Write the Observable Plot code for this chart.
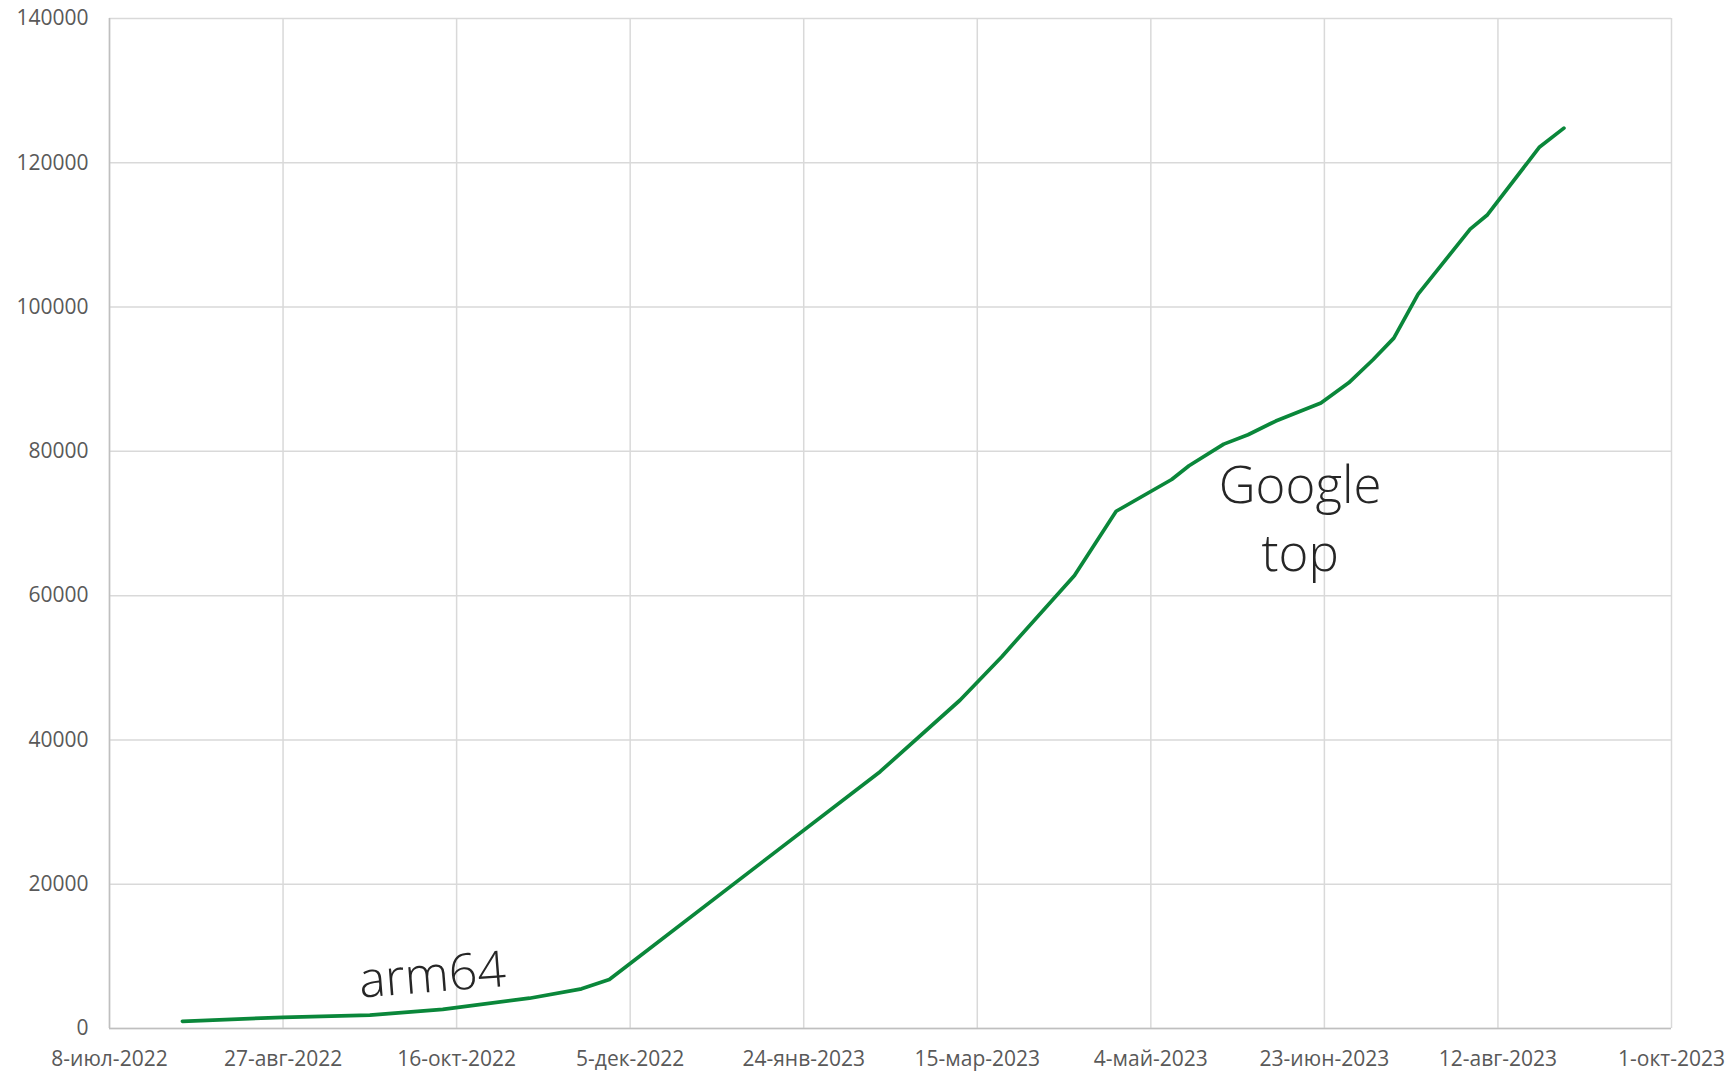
<!DOCTYPE html>
<html><head><meta charset="utf-8">
<script src="https://cdn.jsdelivr.net/npm/d3@7"></script>
<script src="https://cdn.jsdelivr.net/npm/@observablehq/plot@0.6"></script>
<style>html,body{margin:0;padding:0;background:#fff} svg{display:block}</style>
</head><body><div id="chart"></div>
<script>
const dates = ["2022-07-29","2022-08-27","2022-09-21","2022-10-12","2022-11-06","2022-11-21","2022-11-29",
  "2023-02-15","2023-03-10","2023-03-22","2023-04-12","2023-04-24","2023-05-10","2023-05-15","2023-05-25",
  "2023-06-01","2023-06-09","2023-06-22","2023-06-30","2023-07-07","2023-07-13","2023-07-20","2023-07-26",
  "2023-08-04","2023-08-09","2023-08-24","2023-08-31"];
const values = [1000,1550,1850,2650,4200,5500,6800,
  35600,45500,51500,62800,71700,76100,78000,81000,
  82300,84200,86700,89500,92700,95700,101800,105400,
  110800,112800,122200,124800];
const tickDates = ["2022-07-08","2022-08-27","2022-10-16","2022-12-05","2023-01-24","2023-03-15","2023-05-04","2023-06-23","2023-08-12","2023-10-01"];
const yTicks = [0,20000,40000,60000,80000,100000,120000,140000];
const monthNames = ["янв","фев","мар","апр","май","июн","июл","авг","сен","окт","ноя","дек"];
const annotationLabels = ["arm64","Google\ntop"];
const annotationDates = ["2022-10-09","2023-06-16"];
const annotationValues = [7300, 71200];
const annotationRotate = [-4.5, 0];

const parse = s => new Date(s + "T00:00:00Z");
const data = dates.map((d, i) => ({date: parse(d), value: values[i]}));
const ticks = tickDates.map(parse);
const fmt = d => `${d.getUTCDate()}-${monthNames[d.getUTCMonth()]}-${d.getUTCFullYear()}`;
const notes = annotationLabels.map((t, i) => ({label: t, date: parse(annotationDates[i]), value: annotationValues[i], rotate: annotationRotate[i]}));

const chart = Plot.plot({
  width: 1732, height: 1071,
  marginLeft: 109, marginRight: 61, marginTop: 18, marginBottom: 43,
  style: {fontFamily: "'Open Sans', 'Noto Sans', sans-serif", fontSize: "21px", color: "#595959", background: "#fff"},
  x: {type: "utc", domain: [ticks[0], ticks[ticks.length - 1]]},
  y: {domain: [0, 140000]},
  marks: [
    Plot.gridX(ticks, {stroke: "#d9d9d9", strokeOpacity: 1, strokeWidth: 1.5}),
    Plot.gridY(yTicks, {stroke: "#d9d9d9", strokeOpacity: 1, strokeWidth: 1.5}),
    Plot.axisX(ticks, {tickSize: 0, tickPadding: 23, tickFormat: fmt, fontSize: 21, fill: "#595959", label: null}),
    Plot.axisY(yTicks, {tickSize: 0, tickPadding: 21, tickFormat: d => String(d), fontSize: 21, fill: "#595959", label: null}),
    Plot.ruleY([0], {stroke: "#bfbfbf", strokeWidth: 1.5}),
    Plot.ruleX([ticks[0]], {stroke: "#bfbfbf", strokeWidth: 1.5}),
    Plot.line(data, {x: "date", y: "value", stroke: "#0a873a", strokeWidth: 3.7, strokeLinejoin: "round", strokeLinecap: "round"}),
    Plot.text(notes.filter(n => n.rotate !== 0), {x: "date", y: "value", text: "label", rotate: -4.5, fontSize: 50, fontWeight: 300, fill: "#262626", textAnchor: "middle", lineAnchor: "middle"}),
    Plot.text(notes.filter(n => n.rotate === 0), {x: "date", y: "value", text: "label", fontSize: 51, fontWeight: 300, fill: "#262626", textAnchor: "middle", lineAnchor: "middle", lineHeight: 1.34})
  ]
});
document.getElementById("chart").appendChild(chart);
</script>
</body></html>
